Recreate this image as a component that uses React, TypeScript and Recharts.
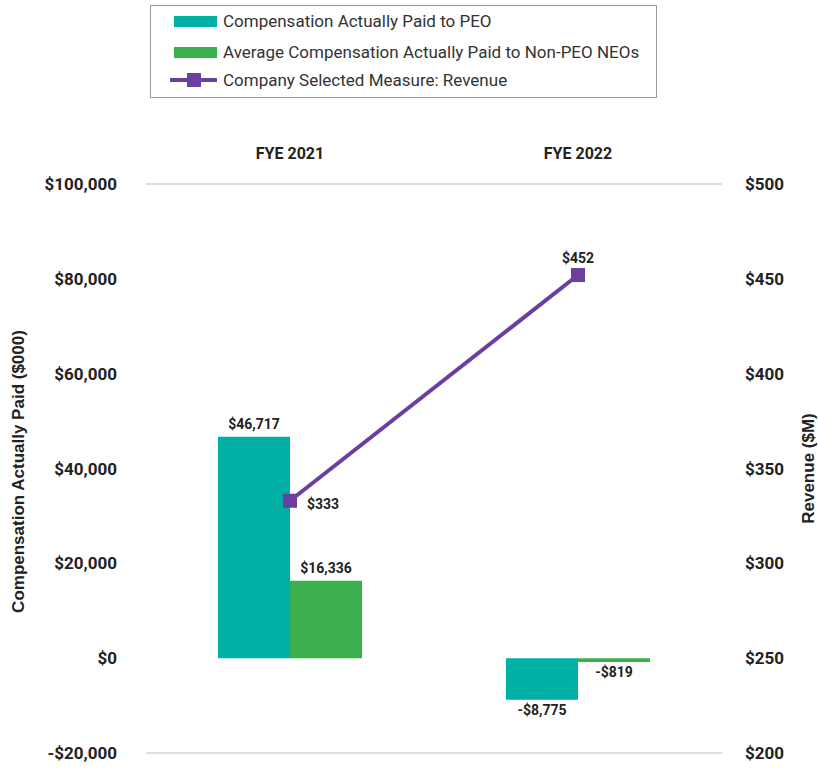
import React from 'react';
import {
  ComposedChart, Bar, Line, XAxis, YAxis, CartesianGrid, LabelList, Label,
} from 'recharts';

const categories = ['FYE 2021', 'FYE 2022'];
const peoCap = [46717, -8775];
const neoCap = [16336, -819];
const revenue = [333, 452];
const leftTicks = [-20000, 0, 20000, 40000, 60000, 80000, 100000];
const rightTicks = [200, 250, 300, 350, 400, 450, 500];

const seriesNames = {
  peo: 'Compensation Actually Paid to PEO',
  neo: 'Average Compensation Actually Paid to Non-PEO NEOs',
  rev: 'Company Selected Measure: Revenue',
};

const COLORS = { peo: '#00B0A5', neo: '#3BB04C', rev: '#6A3FA0' };
const FONT = 'Roboto, "Open Sans", sans-serif';
const TITLE_FONT = '"Liberation Sans", Arial, sans-serif';
const TEXT = '#222';

const data = categories.map((c, i) => ({
  name: c,
  peo: peoCap[i],
  neo: neoCap[i],
  rev: revenue[i],
}));

const fmtMoney = (v: number) => {
  const s = '$' + Math.abs(v).toLocaleString('en-US');
  return v < 0 ? '-' + s : s;
};

const BarLabel = (props: any) => {
  const { x, y, width, height, value } = props;
  const top = Math.min(y, y + height);
  const bottom = Math.max(y, y + height);
  const cx = x + width / 2;
  const ty = value < 0 ? bottom + 15 : top - 8;
  return (
    <text x={cx} y={ty} textAnchor="middle" fontFamily={FONT} fontWeight={700} fontSize={14} fill={TEXT}>
      {fmtMoney(value)}
    </text>
  );
};

const LineLabel = (props: any) => {
  const { x, y, value, index } = props;
  if (index === 0) {
    return (
      <text x={x + 17} y={y + 8} textAnchor="start" fontFamily={FONT} fontWeight={700} fontSize={14} fill={TEXT}>
        {fmtMoney(value)}
      </text>
    );
  }
  return (
    <text x={x} y={y - 12} textAnchor="middle" fontFamily={FONT} fontWeight={700} fontSize={14} fill={TEXT}>
      {fmtMoney(value)}
    </text>
  );
};

const SquareDot = (props: any) => {
  const { cx, cy } = props;
  if (cx == null || cy == null) return null;
  return <rect x={cx - 7} y={cy - 7} width={14} height={14} fill={COLORS.rev} />;
};

const CatTick = (props: any) => {
  const { x, y, payload } = props;
  return (
    <text x={x} y={y} dy={-17} textAnchor="middle" fontFamily={FONT} fontWeight={700} fontSize={16} fill={TEXT}>
      {payload.value}
    </text>
  );
};

const LeftTick = (props: any) => {
  const { x, y, payload } = props;
  return (
    <text x={x} y={y} dy={6} textAnchor="end" fontFamily={FONT} fontWeight={700} fontSize={17} fill={TEXT}>
      {fmtMoney(payload.value)}
    </text>
  );
};

const RightTick = (props: any) => {
  const { x, y, payload } = props;
  return (
    <text x={x} y={y} dy={6} textAnchor="start" fontFamily={FONT} fontWeight={700} fontSize={17} fill={TEXT}>
      {fmtMoney(payload.value)}
    </text>
  );
};

const LeftTitle = (props: any) => {
  const { viewBox } = props;
  const cx = 18;
  const cy = viewBox.y + viewBox.height / 2 + 3;
  return (
    <text x={cx} y={cy} transform={`rotate(-90, ${cx}, ${cy})`} textAnchor="middle" dominantBaseline="central"
      fontFamily={TITLE_FONT} fontWeight={700} fontSize={17} fill={TEXT}>
      Compensation Actually Paid ($000)
    </text>
  );
};

const RightTitle = (props: any) => {
  const { viewBox } = props;
  const cx = viewBox.x + viewBox.width - 10;
  const cy = viewBox.y + viewBox.height / 2;
  return (
    <text x={cx} y={cy} transform={`rotate(-90, ${cx}, ${cy})`} textAnchor="middle" dominantBaseline="central"
      fontFamily={TITLE_FONT} fontWeight={700} fontSize={17} fill={TEXT}>
      Revenue ($M)
    </text>
  );
};

const LegendBox = () => (
  <div style={{
    position: 'absolute', left: 150, top: 5, width: 507, height: 93,
    border: '1.5px solid #999', boxSizing: 'border-box', fontFamily: FONT, fontSize: 17, color: '#333',
  }}>
    <div style={{ position: 'absolute', left: 23, top: 5, display: 'flex', alignItems: 'center' }}>
      <div style={{ width: 43, height: 11, background: COLORS.peo, marginRight: 6 }} />
      <span>{seriesNames.peo}</span>
    </div>
    <div style={{ position: 'absolute', left: 23, top: 36, display: 'flex', alignItems: 'center' }}>
      <div style={{ width: 43, height: 11, background: COLORS.neo, marginRight: 6 }} />
      <span>{seriesNames.neo}</span>
    </div>
    <div style={{ position: 'absolute', left: 19, top: 64, display: 'flex', alignItems: 'center' }}>
      <svg width={47} height={16} style={{ marginRight: 6 }}>
        <line x1={1} y1={8} x2={46} y2={8} stroke={COLORS.rev} strokeWidth={4} strokeLinecap="round" />
        <rect x={17} y={1} width={14} height={14} fill={COLORS.rev} />
      </svg>
      <span>{seriesNames.rev}</span>
    </div>
  </div>
);

export default function App() {
  return (
    <div style={{ position: 'absolute', left: 0, top: 0, width: 818, height: 769, background: '#fff' }}>
      <LegendBox />
      <ComposedChart
        width={818}
        height={769}
        data={data}
        margin={{ top: 144, right: 0, bottom: 16, left: 0 }}
        barCategoryGap="25%"
        barGap={0}
      >
        <CartesianGrid vertical={false} stroke="#d3d3d3" strokeWidth={1.5} />
        <XAxis dataKey="name" orientation="top" height={40} axisLine={false} tickLine={false} tick={<CatTick />} interval={0} />
        <YAxis yAxisId="left" orientation="left" width={146} domain={[-20000, 100000]} ticks={leftTicks}
          axisLine={false} tickLine={false} tick={<LeftTick />} tickMargin={23} interval={0}>
          <Label content={<LeftTitle />} />
        </YAxis>
        <YAxis yAxisId="right" orientation="right" width={96} domain={[200, 500]} ticks={rightTicks}
          axisLine={false} tickLine={false} tick={<RightTick />} tickMargin={17} interval={0}>
          <Label content={<RightTitle />} />
        </YAxis>
        <Bar yAxisId="left" dataKey="peo" fill={COLORS.peo} isAnimationActive={false}>
          <LabelList dataKey="peo" content={<BarLabel />} />
        </Bar>
        <Bar yAxisId="left" dataKey="neo" fill={COLORS.neo} isAnimationActive={false}>
          <LabelList dataKey="neo" content={<BarLabel />} />
        </Bar>
        <Line yAxisId="right" dataKey="rev" stroke={COLORS.rev} strokeWidth={4} dot={<SquareDot />}
          activeDot={false} isAnimationActive={false}>
          <LabelList dataKey="rev" content={<LineLabel />} />
        </Line>
      </ComposedChart>
    </div>
  );
}
